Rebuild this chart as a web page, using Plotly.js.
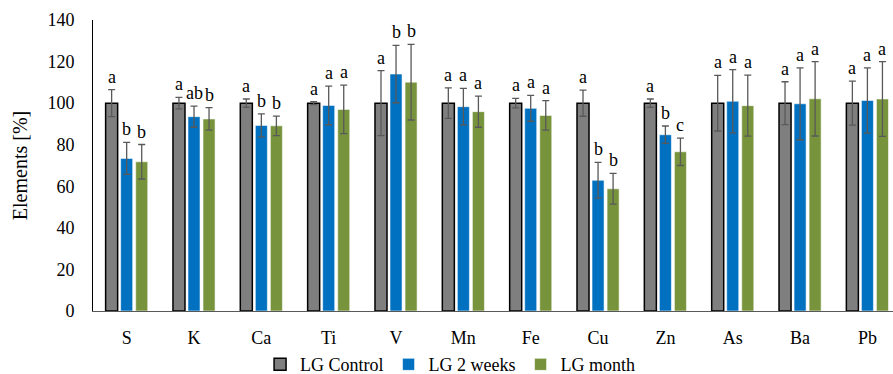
<!DOCTYPE html>
<html>
<head>
<meta charset="utf-8">
<script src="https://cdn.plot.ly/plotly-3.0.1.min.js"></script>
<style>html,body{margin:0;padding:0;background:#fff}#chart{width:893px;height:374px}</style>
</head>
<body>
<div id="chart"></div>
<script>
var categories = ['S','K','Ca','Ti','V','Mn','Fe','Cu','Zn','As','Ba','Pb'];
var seriesNames = ['LG Control','LG 2 weeks','LG month'];
var control    = [100,100,100,100,100,100,100,100,100,100,100,100];
var controlErr = [6.5,2.8,2.0,0.7,15.6,7.3,2.3,6.3,2.0,13.4,10.3,10.6];
var twoWeeks    = [73.4,93.5,89.3,98.9,114.0,98.3,97.5,62.9,84.8,100.9,99.7,101.3];
var twoWeeksErr = [7.7,5.1,5.5,9.3,13.8,8.8,6.2,8.6,4.2,15.2,17.3,15.7];
var month    = [71.8,92.4,89.1,97.0,110.1,95.9,94.1,58.8,76.6,98.8,102.1,102.0];
var monthErr = [8.3,5.4,4.7,11.7,18.2,7.5,7.1,7.4,6.6,14.7,17.9,18.0];
var controlLetters  = ['a','a','a','a','a','a','a','a','a','a','a','a'];
var twoWeeksLetters = ['b','ab','b','a','b','a','a','b','b','a','a','a'];
var monthLetters    = ['b','b','b','a','b','a','a','b','c','a','a','a'];

var colors = ['#7F7F7F','#0070C0','#77933C'];
var lineColors = ['#000000','rgba(255,255,255,0.7)','rgba(255,255,255,0.7)'];
var lineWidths = [1.5,0.8,0.8];
var values = [control, twoWeeks, month];
var errs = [controlErr, twoWeeksErr, monthErr];
var letters = [controlLetters, twoWeeksLetters, monthLetters];
var FONT = 'Liberation Serif';

var bargap = 0.33;
var xr = [-0.5, 11.38];
var plotW = 893 - 93;
var slotPx = plotW / (xr[1] - xr[0]) * (1 - bargap) / 3;

var traces = values.map(function(v, i){
  return {
    type:'bar', name: seriesNames[i], x: categories, y: v,
    marker:{color: colors[i], line:{color: lineColors[i], width: lineWidths[i]}},
    error_y:{type:'data', array: errs[i], visible:true, color:'#595959', thickness:1.3, width:3.5}
  };
});

var annotations = [];
values.forEach(function(v, i){
  categories.forEach(function(c, j){
    annotations.push({
      x: c, y: v[j] + errs[i][j], xref:'x', yref:'y',
      text: letters[i][j], showarrow:false, yanchor:'bottom', yshift:1,
      xshift: (i - 1) * slotPx,
      font:{family: FONT, size:18, color:'#000'}
    });
  });
});

var layout = {
  width:893, height:374,
  margin:{l:93, r:0, t:20, b:63, pad:0},
  paper_bgcolor:'#fff', plot_bgcolor:'#fff',
  barmode:'group', bargap: bargap, bargroupgap: 0.2,
  font:{family: FONT, size:18, color:'#000'},
  xaxis:{range: xr, showgrid:false, zeroline:false, showline:true, linecolor:'#595959', linewidth:1,
         ticks:'outside', ticklen:10, tickcolor:'rgba(0,0,0,0)', tickfont:{family:FONT, size:18}},
  yaxis:{range:[0,140], dtick:20, showgrid:false, zeroline:false, showline:true, linecolor:'#000', linewidth:1,
         ticks:'outside', ticklen:14, tickcolor:'rgba(0,0,0,0)', tickfont:{family:FONT, size:18},
         title:{text:'Elements [%]', font:{family:FONT, size:20}, standoff:14}},
  showlegend:true,
  legend:{orientation:'h', xref:'container', yref:'container', x:0.504, xanchor:'center', y:0.025, yanchor:'middle',
          font:{family:FONT, size:18}, itemwidth:30, tracegroupgap:0},
  annotations: annotations
};

Plotly.newPlot('chart', traces, layout, {displayModeBar:false, staticPlot:true});
</script>
</body>
</html>
